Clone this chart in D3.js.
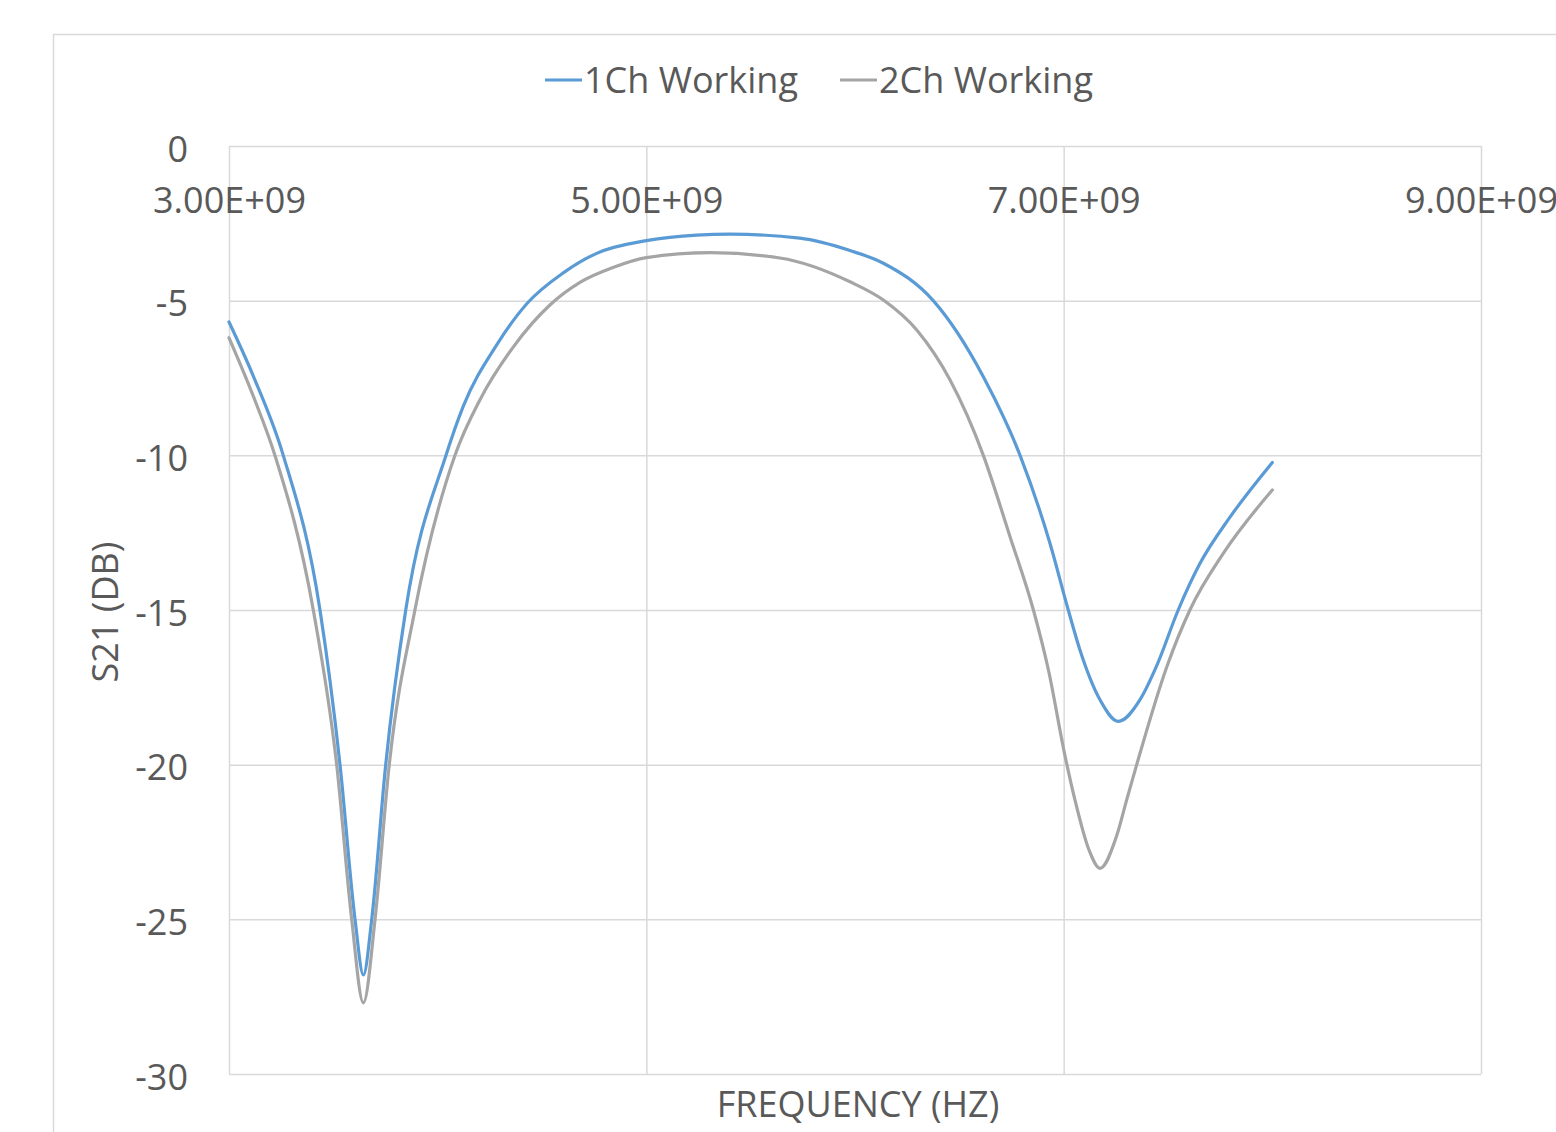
<!DOCTYPE html>
<html>
<head>
<meta charset="utf-8">
<script src="https://cdn.jsdelivr.net/npm/d3@7/dist/d3.min.js"></script>
<style>
  html, body { margin: 0; padding: 0; background: #ffffff; }
  svg { display: block; }
  text { font-family: "Open Sans", "Noto Sans", sans-serif; fill: #595959; }
</style>
</head>
<body>
<svg id="chart" width="1556" height="1132"></svg>
<script>
// ---- data (frequency in Hz, S21 in dB) ----
const seriesNames = ["1Ch Working", "2Ch Working"];
const seriesColors = ["#5b9bd5", "#a5a5a5"];

const freq1 = [3.000e9, 3.116e9, 3.260e9, 3.436e9, 3.532e9, 3.604e9, 3.644e9, 3.684e9,
               3.751e9, 3.847e9, 4.040e9, 4.123e9, 4.283e9, 4.427e9, 4.602e9, 4.762e9, 5.000e9, 5.241e9,
               5.401e9, 5.735e9, 5.976e9, 6.136e9, 6.375e9, 6.615e9, 6.791e9, 6.935e9, 7.022e9, 7.078e9,
               7.174e9, 7.262e9, 7.366e9, 7.446e9, 7.549e9, 7.653e9, 7.797e9, 8.000e9];
const s21_1 = [-5.69, -7.43, -10.0, -15.0, -20.0, -25.0, -26.8, -25.0,
               -20.0, -15.0, -10.0, -8.41, -6.43, -5.10, -4.10, -3.47, -3.06, -2.88,
               -2.85, -2.98, -3.38, -3.79, -5.00, -7.46, -10.0, -12.86, -15.0, -16.29,
               -17.9, -18.6, -17.9, -16.8, -15.0, -13.5, -12.0, -10.23];

const freq2 = [3.000e9, 3.116e9, 3.220e9, 3.404e9, 3.516e9, 3.588e9, 3.644e9, 3.700e9,
               3.768e9, 3.891e9, 4.083e9, 4.203e9, 4.362e9, 4.538e9, 4.682e9, 4.840e9, 5.000e9, 5.307e9,
               5.640e9, 5.976e9, 6.136e9, 6.296e9, 6.455e9, 6.615e9, 6.743e9, 6.855e9, 6.927e9, 7.006e9,
               7.054e9, 7.121e9, 7.174e9, 7.254e9, 7.302e9, 7.350e9, 7.494e9, 7.605e9, 7.765e9, 8.000e9];
const s21_2 = [-6.20, -8.08, -10.0, -15.0, -20.0, -25.0, -27.7, -25.0,
               -20.0, -15.0, -10.0, -8.20, -6.50, -5.14, -4.41, -3.93, -3.61, -3.45,
               -3.62, -4.39, -4.98, -5.95, -7.56, -10.0, -12.63, -15.0, -16.94, -19.7,
               -21.14, -22.75, -23.35, -22.3, -21.14, -20.0, -16.84, -15.0, -13.17, -11.12];

const xTicks = [3e9, 5e9, 7e9, 9e9];
const xTickLabels = ["3.00E+09", "5.00E+09", "7.00E+09", "9.00E+09"];
const yTicks = [0, -5, -10, -15, -20, -25, -30];
const xTitle = "FREQUENCY (HZ)";
const yTitle = "S21 (DB)";

// ---- layout ----
const svg = d3.select("#chart");
const plot = { left: 229, top: 146, right: 1481, bottom: 1074 };
const gridColor = "#d9d9d9";
const fontSize = 36;

// outer chart border
svg.append("rect")
  .attr("x", 53.5).attr("y", 34.5)
  .attr("width", 1600).attr("height", 1200)
  .attr("fill", "#fff").attr("stroke", gridColor).attr("stroke-width", 1.5);

const x = d3.scaleLinear().domain([3e9, 9e9]).range([plot.left, plot.right]);
const y = d3.scaleLinear().domain([-30, 0]).range([plot.bottom, plot.top]);

// horizontal gridlines + y labels
const yAxis = svg.append("g")
  .attr("transform", `translate(${plot.left},0)`)
  .call(d3.axisLeft(y).tickValues(yTicks).tickSize(-(plot.right - plot.left)).tickPadding(41)
    .tickFormat(d => String(d)));
yAxis.select(".domain").remove();
yAxis.selectAll(".tick line").attr("stroke", gridColor).attr("stroke-width", 1.5);
yAxis.selectAll(".tick text")
  .attr("font-size", fontSize).attr("dy", "0.42em")
  .style("font-family", '"Open Sans", sans-serif').attr("fill", "#595959");

// vertical gridlines
const xGrid = svg.append("g")
  .attr("transform", `translate(0,${plot.bottom})`)
  .call(d3.axisBottom(x).tickValues(xTicks).tickSize(-(plot.bottom - plot.top)).tickFormat(""));
xGrid.select(".domain").remove();
xGrid.selectAll(".tick line").attr("stroke", gridColor).attr("stroke-width", 1.5);

// x labels under the top (0 dB) line
const xLab = svg.append("g")
  .attr("transform", `translate(0,${plot.top})`)
  .call(d3.axisBottom(x).tickValues(xTicks).tickSize(0).tickPadding(41)
    .tickFormat((d, i) => xTickLabels[i]));
xLab.select(".domain").remove();
xLab.selectAll(".tick text")
  .attr("font-size", fontSize)
  .style("font-family", '"Open Sans", sans-serif').attr("fill", "#595959");

// lines
const line = d3.line().x(d => x(d[0])).y(d => y(d[1])).curve(d3.curveMonotoneX);
const series = [
  d3.zip(freq1, s21_1),
  d3.zip(freq2, s21_2)
];
[1, 0].forEach(i => {
  svg.append("path")
    .datum(series[i])
    .attr("d", line)
    .attr("fill", "none")
    .attr("stroke", seriesColors[i])
    .attr("stroke-width", 3.2)
    .attr("stroke-linejoin", "round")
    .attr("stroke-linecap", "round");
});

// axis titles
svg.append("text")
  .attr("x", (plot.left + plot.right) / 2 + 3)
  .attr("y", 1117)
  .attr("text-anchor", "middle")
  .attr("font-size", fontSize)
  .text(xTitle);

svg.append("text")
  .attr("transform", `translate(118,${(plot.top + plot.bottom) / 2 + 2}) rotate(-90)`)
  .attr("text-anchor", "middle")
  .attr("font-size", fontSize)
  .text(yTitle);

// legend
const legendItems = [
  { name: seriesNames[0], color: seriesColors[0], x0: 545 },
  { name: seriesNames[1], color: seriesColors[1], x0: 840 }
];
const lg = svg.append("g");
legendItems.forEach(it => {
  lg.append("line")
    .attr("x1", it.x0).attr("x2", it.x0 + 37)
    .attr("y1", 80).attr("y2", 80)
    .attr("stroke", it.color).attr("stroke-width", 3.2);
  lg.append("text")
    .attr("x", it.x0 + 39).attr("y", 93)
    .attr("font-size", fontSize)
    .text(it.name);
});
</script>
</body>
</html>
